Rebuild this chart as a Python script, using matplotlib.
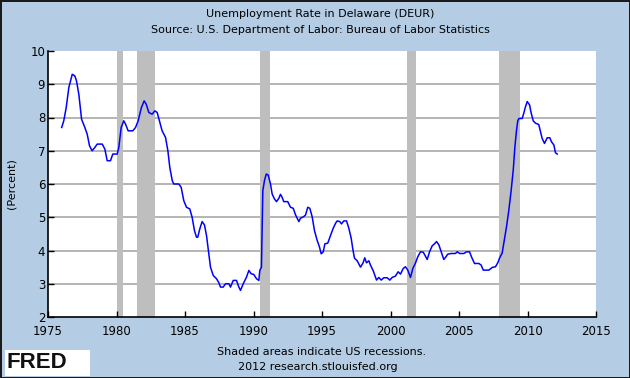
import matplotlib
matplotlib.use("Agg")
import matplotlib.pyplot as plt
from matplotlib.patches import Rectangle

# monthly-ish readings of Delaware unemployment rate (percent)
years = [1976.0, 1976.15, 1976.33, 1976.52, 1976.77, 1976.96, 1977.08, 1977.25, 1977.45, 1977.69,
         1977.86, 1978.03, 1978.22, 1978.42, 1978.59, 1978.96, 1979.15, 1979.32, 1979.56, 1979.73,
         1980.05, 1980.17, 1980.34, 1980.53, 1980.66, 1980.85, 1981.19, 1981.39, 1981.58, 1981.82,
         1982.02, 1982.17, 1982.36, 1982.6, 1982.8, 1982.97, 1983.1, 1983.33, 1983.58, 1983.75,
         1983.89, 1984.07, 1984.18, 1984.55, 1984.72, 1984.91, 1985.11, 1985.35, 1985.52, 1985.69,
         1985.84, 1985.93, 1986.08, 1986.25, 1986.42, 1986.57, 1986.74, 1986.86, 1987.06, 1987.3,
         1987.47, 1987.59, 1987.79, 1987.96, 1988.2, 1988.32, 1988.52, 1988.76, 1988.93, 1989.05,
         1989.25, 1989.49, 1989.66, 1989.83, 1990.02, 1990.22, 1990.39, 1990.46, 1990.58, 1990.63,
         1990.68, 1990.8, 1990.93, 1991.07, 1991.24, 1991.36, 1991.53, 1991.68, 1991.85, 1991.97,
         1992.09, 1992.21, 1992.5, 1992.7, 1992.9, 1993.07, 1993.31, 1993.43, 1993.67, 1993.8,
         1993.96, 1994.11, 1994.28, 1994.45, 1994.65, 1994.82, 1994.94, 1995.09, 1995.21, 1995.42,
         1995.62, 1995.82, 1995.99, 1996.11, 1996.3, 1996.42, 1996.59, 1996.79, 1996.96, 1997.13,
         1997.25, 1997.37, 1997.57, 1997.81, 1998.0, 1998.12, 1998.25, 1998.42, 1998.54, 1998.74,
         1998.98, 1999.15, 1999.32, 1999.51, 1999.76, 1999.95, 2000.12, 2000.36, 2000.56, 2000.73,
         2000.93, 2001.09, 2001.26, 2001.46, 2001.63, 2001.82, 2001.99, 2002.19, 2002.39, 2002.55,
         2002.68, 2002.85, 2003.04, 2003.21, 2003.36, 2003.53, 2003.7, 2003.89, 2004.01, 2004.18,
         2004.43, 2004.74, 2004.87, 2005.06, 2005.35, 2005.55, 2005.77, 2005.91, 2006.13, 2006.45,
         2006.62, 2006.77, 2007.18, 2007.42, 2007.66, 2007.83, 2007.98, 2008.15, 2008.27, 2008.47,
         2008.64, 2008.81, 2008.96, 2009.08, 2009.2, 2009.29, 2009.37, 2009.61, 2009.73, 2009.85,
         2009.98, 2010.15, 2010.27, 2010.42, 2010.58, 2010.82, 2010.95, 2011.07, 2011.24, 2011.44,
         2011.63, 2011.75, 2011.93, 2012.04, 2012.17]
rate = [7.7, 7.9, 8.3, 8.9, 9.3, 9.25, 9.1, 8.7, 7.95, 7.7,
        7.5, 7.15, 7.0, 7.1, 7.2, 7.2, 7.05, 6.7, 6.7, 6.9,
        6.9, 7.1, 7.7, 7.9, 7.8, 7.6, 7.6, 7.7, 7.9, 8.3,
        8.5, 8.4, 8.15, 8.1, 8.2, 8.15, 7.95, 7.6, 7.4, 7.0,
        6.5, 6.1, 6.0, 6.0, 5.9, 5.5, 5.3, 5.25, 5.0, 4.6,
        4.4, 4.4, 4.65, 4.87, 4.77, 4.45, 3.9, 3.5, 3.25, 3.15,
        3.03, 2.9, 2.9, 3.0, 3.0, 2.9, 3.1, 3.1, 2.9, 2.8,
        3.0, 3.2, 3.4, 3.3, 3.28, 3.15, 3.1, 3.4, 3.5, 4.6,
        5.8, 6.1, 6.3, 6.27, 6.0, 5.7, 5.55, 5.47, 5.57, 5.69,
        5.6, 5.47, 5.47, 5.3, 5.27, 5.07, 4.87, 4.97, 5.02, 5.07,
        5.3, 5.27, 5.02, 4.6, 4.3, 4.1, 3.9, 3.96, 4.2, 4.22,
        4.45, 4.67, 4.82, 4.89, 4.87, 4.8, 4.89, 4.89, 4.67, 4.37,
        4.04, 3.77, 3.69, 3.5, 3.63, 3.78, 3.63, 3.69, 3.56, 3.39,
        3.11, 3.19, 3.11, 3.18, 3.18, 3.11, 3.19, 3.23, 3.36, 3.29,
        3.46, 3.51, 3.41, 3.19, 3.46, 3.62, 3.81, 3.96, 3.95, 3.83,
        3.73, 3.96, 4.14, 4.2, 4.27, 4.17, 3.96, 3.73, 3.79, 3.89,
        3.91, 3.91, 3.96, 3.91, 3.91, 3.96, 3.96, 3.81, 3.61, 3.61,
        3.56, 3.41, 3.41, 3.49, 3.51, 3.63, 3.79, 3.92, 4.22, 4.72,
        5.22, 5.82, 6.42, 7.12, 7.62, 7.9, 7.97, 7.97, 8.13, 8.32,
        8.48, 8.38, 8.13, 7.9, 7.83, 7.79, 7.57, 7.37, 7.22, 7.39,
        7.39, 7.27, 7.17, 6.94, 6.9]

rec_start = [1980.0, 1981.5, 1990.5, 2001.17, 2007.92]
rec_end = [1980.5, 1982.83, 1991.17, 2001.83, 2009.42]

x_ticks = [1975, 1980, 1985, 1990, 1995, 2000, 2005, 2010, 2015]
y_ticks = [2, 3, 4, 5, 6, 7, 8, 9, 10]

bg = "#b4cde4"
fig = plt.figure(figsize=(6.3, 3.78), dpi=100)
fig.patch.set_facecolor(bg)
fig.patch.set_edgecolor("#1a1a1a")
fig.patch.set_linewidth(2)

ax = fig.add_axes([48 / 630, 1 - 317 / 378, 548 / 630, 266 / 378])
ax.set_facecolor("white")

for s, e in zip(rec_start, rec_end):
  ax.axvspan(s, e, color="#bebebe", lw=0, zorder=1)

for v in y_ticks[1:-1]:
  ax.axhline(v, color="#a8a8a8", lw=1.2, zorder=0.5)

ax.plot(years, rate, color="#0000ff", lw=1.1, zorder=3)

ax.set_xlim(1975, 2015)
ax.set_ylim(2, 10)
ax.set_xticks(x_ticks)
ax.set_yticks(y_ticks)
ax.tick_params(direction="in", length=4, width=1, labelsize=8.5, colors="black")
ax.tick_params(axis="x", pad=6)
ax.tick_params(axis="y", pad=2)
for sp in ["top", "right"]:
  ax.spines[sp].set_visible(False)
for sp in ["left", "bottom"]:
  ax.spines[sp].set_linewidth(1.2)

ax.set_ylabel("(Percent)", fontsize=8, labelpad=10)

fig.text(0.508, 1 - 14 / 378, "Unemployment Rate in Delaware (DEUR)", ha="center", va="center", fontsize=8)
fig.text(0.508, 1 - 30 / 378, "Source: U.S. Department of Labor: Bureau of Labor Statistics", ha="center", va="center", fontsize=8)
fig.text(322 / 630, 1 - 352 / 378, "Shaded areas indicate US recessions.", ha="center", va="center", fontsize=8)
fig.text(318 / 630, 1 - 367 / 378, "2012 research.stlouisfed.org", ha="center", va="center", fontsize=8)

fig.patches.append(Rectangle((5 / 630, 2 / 378), 85 / 630, 26 / 378, transform=fig.transFigure,
                             facecolor="white", edgecolor="none", zorder=0))
fig.text(7 / 630, 1 - 362 / 378, "FRED", ha="left", va="center", fontsize=16, fontweight="bold",
         color="#111111", family="Liberation Sans")

fig.savefig("out.png", dpi=100, facecolor=bg, edgecolor="#1a1a1a")
